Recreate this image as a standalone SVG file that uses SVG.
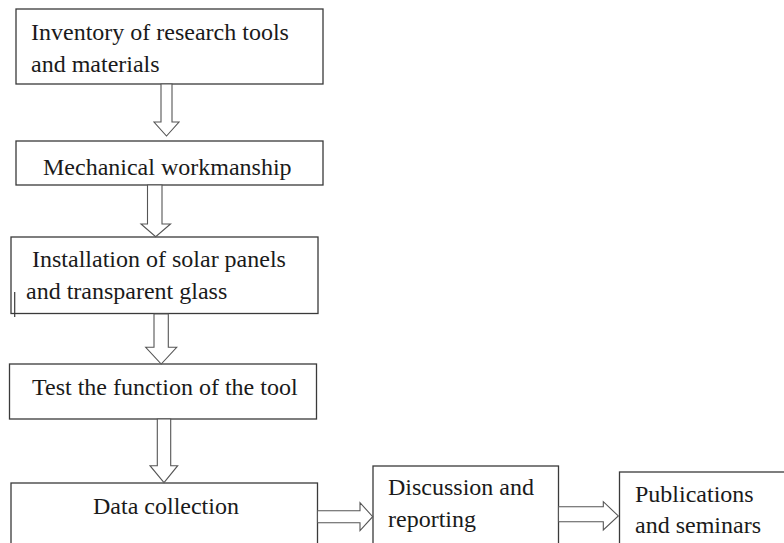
<svg xmlns="http://www.w3.org/2000/svg" width="784" height="543" viewBox="0 0 784 543">
<style>
.box{fill:#fff;stroke:#3a3a3a;stroke-width:1.3}
.arr{fill:#fff;stroke:#555;stroke-width:1.1;stroke-linejoin:miter}
.t{font-family:"Liberation Serif","Times New Roman",serif;font-size:24px;fill:#1a1a1a}
</style>
<rect width="784" height="543" fill="#fff"/>
<g id="n1"><rect class="box" x="16" y="9" width="307" height="75"/><text class="t" x="31" y="40">Inventory of research tools</text><text class="t" x="31" y="72">and materials</text></g>
<g id="n2"><rect class="box" x="16" y="141" width="307" height="44"/><text class="t" x="43" y="175">Mechanical workmanship</text></g>
<g id="n3"><rect class="box" x="11" y="237" width="307" height="76.5"/><text class="t" x="32" y="267">Installation of solar panels</text><text class="t" x="26" y="299">and transparent glass</text><line x1="14.7" y1="292" x2="14.7" y2="317" stroke="#3a3a3a" stroke-width="1.2"/></g>
<g id="n4"><rect class="box" x="9.5" y="364" width="307" height="55"/><text class="t" x="32" y="395">Test the function of the tool</text></g>
<g id="n5"><rect class="box" x="11" y="483" width="306.5" height="70"/><text class="t" x="93" y="514">Data collection</text></g>
<g id="n6"><rect class="box" x="373" y="466" width="185.5" height="90"/><text class="t" x="388" y="495">Discussion and</text><text class="t" x="388" y="527">reporting</text></g>
<g id="n7"><rect class="box" x="619.5" y="472" width="180" height="90"/><text class="t" x="635" y="502">Publications</text><text class="t" x="635" y="533">and seminars</text></g>
<g id="connectors">
<polygon class="arr" points="161,84 172,84 172,122 179,122 166.5,136 154,122 161,122"/>
<polygon class="arr" points="147.5,185 162,185 162,224 170.5,224 155.7,236.7 141,224 147.5,224"/>
<polygon class="arr" points="154,314 168.3,314 168.3,347.3 176.7,347.3 161.2,364 145.7,347.3 154,347.3"/>
<polygon class="arr" points="157.3,419 170.7,419 170.7,465.7 177.7,465.7 164,482.7 150,465.7 157.3,465.7"/>
<polygon class="arr" points="317.5,510.7 360,510.7 360,502.7 372.7,516.7 360,530.7 360,522.7 317.5,522.7"/>
<polygon class="arr" points="558.5,506.7 603.3,506.7 603.3,501.7 618.3,515.9 603.3,530 603.3,521.7 558.5,521.7"/>
</g>
</svg>
